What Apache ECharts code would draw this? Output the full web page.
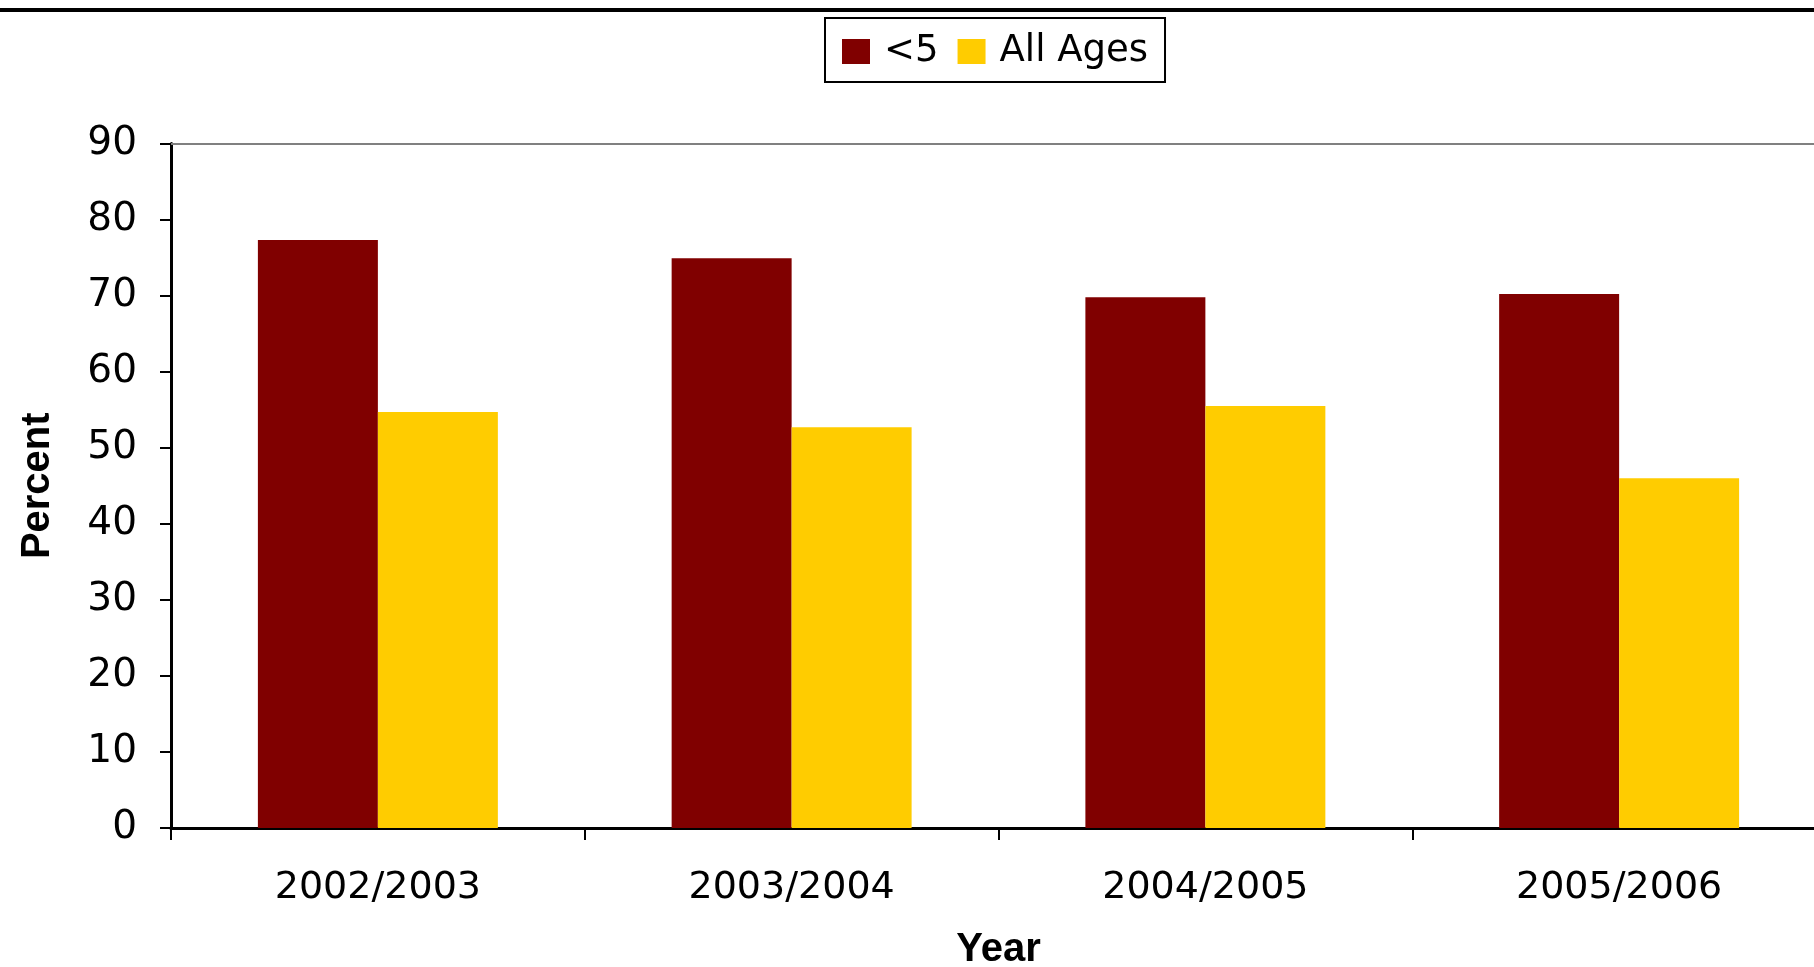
<!DOCTYPE html>
<html>
<head>
<meta charset="utf-8">
<title>Percent by Year</title>
<script src="https://cdn.jsdelivr.net/npm/echarts@6/dist/echarts.min.js"></script>
<style>
  html, body { margin: 0; padding: 0; background: #ffffff; overflow: hidden; }
  /* the plot runs slightly past the right edge of the window */
  #chart { width: 1826px; height: 967px; }
</style>
</head>
<body>
<div id="chart"></div>
<script>
// Season categories along the x axis
const years = ['2002/2003', '2003/2004', '2004/2005', '2005/2006'];
// Percent values per age group
const underFive = [77.3, 74.9, 69.8, 70.2];
const allAges = [54.7, 52.7, 55.5, 46.0];
// Y axis range
const yMin = 0;
const yMax = 90;
const yStep = 10;

const FONT = '"DejaVu Sans", Arial, sans-serif';
const BOLD_FONT = '"Liberation Sans", Arial, sans-serif';

const chart = echarts.init(document.getElementById('chart'), null, { renderer: 'canvas' });

chart.setOption({
  backgroundColor: '#ffffff',
  animation: false,
  graphic: [
    {
      // heavy rule across the top of the page
      type: 'rect',
      left: 0,
      top: 8,
      shape: { width: 1826, height: 4 },
      style: { fill: '#000000' },
      silent: true
    }
  ],
  legend: {
    left: 825,
    top: 18,
    orient: 'horizontal',
    icon: 'rect',
    itemWidth: 28,
    itemHeight: 25,
    itemGap: 19,
    padding: [15, 17, 12, 17],
    borderColor: '#000000',
    borderWidth: 2,
    backgroundColor: '#ffffff',
    textStyle: {
      fontFamily: FONT,
      fontSize: 37,
      color: '#000000',
      padding: [0, 0, 0, 9]
    },
    data: ['<5', 'All Ages']
  },
  grid: {
    left: 171,
    right: 0,
    top: 143.5,
    bottom: 139,
    containLabel: false,
    outerBoundsMode: 'none'
  },
  xAxis: [
    {
      type: 'category',
      data: years,
      position: 'bottom',
      name: 'Year',
      nameLocation: 'middle',
      nameGap: 102,
      nameTextStyle: {
        fontFamily: BOLD_FONT,
        fontWeight: 'bold',
        fontSize: 40,
        color: '#000000'
      },
      axisLine: { show: true, lineStyle: { color: '#000000', width: 3 } },
      axisTick: { show: true, length: 12, lineStyle: { color: '#000000', width: 2 } },
      axisLabel: {
        fontFamily: FONT,
        fontSize: 38,
        color: '#000000',
        margin: 41
      },
      splitLine: { show: false }
    },
    {
      // thin grey border along the top of the plot area
      type: 'category',
      data: years,
      position: 'top',
      axisLine: { show: true, lineStyle: { color: '#808080', width: 2 } },
      axisTick: { show: false },
      axisLabel: { show: false },
      splitLine: { show: false }
    }
  ],
  yAxis: {
    type: 'value',
    min: yMin,
    max: yMax,
    interval: yStep,
    name: 'Percent',
    nameLocation: 'middle',
    nameRotate: 90,
    nameGap: 113,
    nameTextStyle: {
      fontFamily: BOLD_FONT,
      fontWeight: 'bold',
      fontSize: 40,
      color: '#000000'
    },
    axisLine: { show: true, lineStyle: { color: '#000000', width: 3 } },
    axisTick: { show: true, length: 11, lineStyle: { color: '#000000', width: 2 } },
    axisLabel: {
      fontFamily: FONT,
      fontSize: 39,
      color: '#000000',
      margin: 34
    },
    splitLine: { show: false }
  },
  series: [
    {
      name: '<5',
      type: 'bar',
      xAxisIndex: 0,
      data: underFive,
      barGap: '0%',
      barCategoryGap: '42%',
      itemStyle: { color: '#800000' }
    },
    {
      name: 'All Ages',
      type: 'bar',
      xAxisIndex: 0,
      data: allAges,
      barGap: '0%',
      barCategoryGap: '42%',
      itemStyle: { color: '#FFCC00' }
    }
  ]
});
</script>
</body>
</html>
